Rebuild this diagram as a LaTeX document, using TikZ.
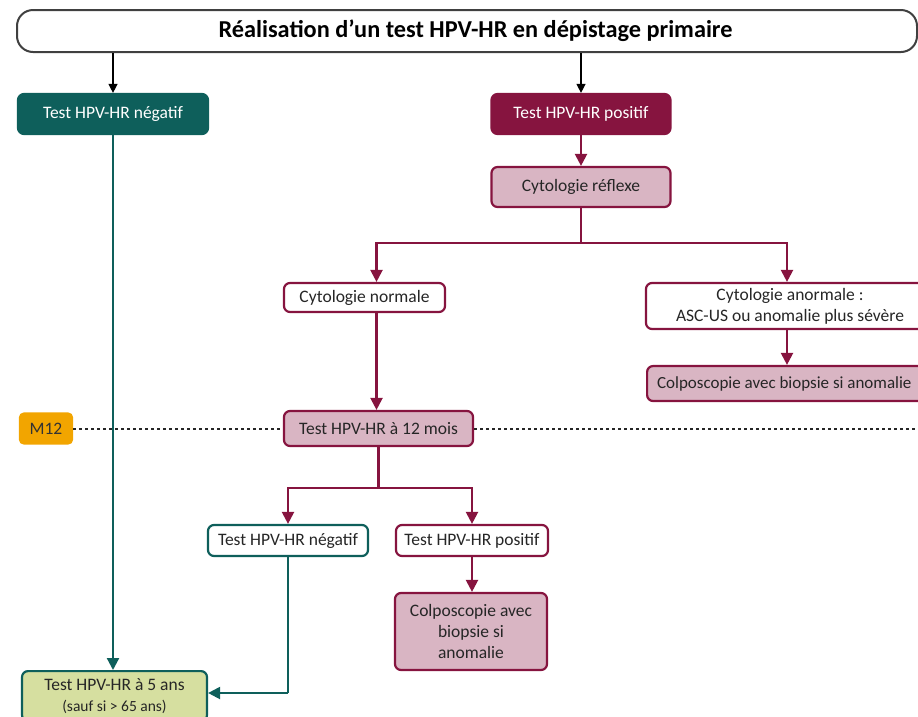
\documentclass[tikz,border=0pt]{standalone}
\usepackage{fontspec}
\setmainfont{Carlito}
\usetikzlibrary{arrows.meta,calc}
\definecolor{teal1}{HTML}{0E5F5B}
\definecolor{crim}{HTML}{86143F}
\definecolor{pinkf}{HTML}{D9B5C3}
\definecolor{olive}{HTML}{D6DFA0}
\definecolor{orangeM}{HTML}{F2A500}
\tikzset{
  base/.style={rounded corners=6pt, line width=2.2pt, align=center, inner sep=2pt, font=\fontsize{17.5}{21}\selectfont},
  darkneg/.style={base, fill=teal1, draw=teal1, text=white},
  darkpos/.style={base, fill=crim, draw=crim, text=white},
  pinkbox/.style={base, fill=pinkf, draw=crim, text=black!85},
  whitecrim/.style={base, fill=white, draw=crim, text=black!85},
  whiteteal/.style={base, fill=white, draw=teal1, text=black!85},
  greenbox/.style={base, fill=olive, draw=teal1, text=black!85},
  mbox/.style={base, fill=orangeM, draw=orangeM, text=black!80, rounded corners=4pt},
  blk/.style={-{Triangle[width=9pt,length=9pt]}, line width=1.3pt, black},
  crimarr/.style={-{Triangle[width=12pt,length=12pt]}, line width=2.2pt, crim},
  crimline/.style={line width=2.2pt, crim},
  tealarr/.style={-{Triangle[width=12pt,length=12pt]}, line width=2.2pt, teal1},
  tealline/.style={line width=2.2pt, teal1},
  dotline/.style={line width=2pt, black!85, dash pattern=on 3pt off 3pt}
}
\begin{document}
\begin{tikzpicture}[x=1pt,y=-1pt]
\useasboundingbox (0,0) rectangle (918,716);
% title
\node[draw=black!75, line width=2pt, rounded corners=16pt, fill=white, minimum width=900pt, minimum height=42pt, font=\fontsize{24.3}{28}\selectfont\bfseries] (title) at (467,31) {\hspace*{17pt}Réalisation d’un test HPV-HR en dépistage primaire};
% first level
\node[darkneg, minimum width=190pt, minimum height=40pt] (neg1) at (113,114) {Test HPV-HR négatif};
\node[darkpos, minimum width=179pt, minimum height=40pt] (pos1) at (581,114) {Test HPV-HR positif};
\node[pinkbox, minimum width=179pt, minimum height=40pt] (cyto) at (581,187) {Cytologie réflexe};
\node[whitecrim, minimum width=161pt, minimum height=29pt] (cnorm) at (364.5,297.5) {Cytologie normale};
\node[whitecrim, minimum width=288pt, minimum height=46pt] (canorm) at (790,306) {Cytologie anormale :\\ASC-US ou anomalie plus sévère};
\node[pinkbox, minimum width=300pt, minimum height=35pt, anchor=west, align=flush left, text width=280pt, inner xsep=9pt, font=\fontsize{17}{20}\selectfont] (colpo1) at (646,383.5) {Colposcopie avec biopsie si anomalie};
\node[pinkbox, minimum width=189pt, minimum height=35pt] (t12) at (378.5,428.5) {Test HPV-HR à 12 mois};
\node[mbox, minimum width=52pt, minimum height=30pt] (m12) at (46,428.5) {M12};
\node[whiteteal, minimum width=160pt, minimum height=31pt] (neg2) at (288,540.5) {Test HPV-HR négatif};
\node[whitecrim, minimum width=152pt, minimum height=31pt] (pos2) at (472,540.5) {Test HPV-HR positif};
\node[pinkbox, minimum width=152pt, minimum height=77pt] (colpo2) at (471,631.5) {Colposcopie avec\\biopsie si\\anomalie};
\node[greenbox, minimum width=185pt, minimum height=50pt, anchor=north, inner sep=3pt] (five) at (114.5,670) {Test HPV-HR à 5 ans\\{\fontsize{15.5}{18}\selectfont (sauf si > 65 ans)}};
% coordinates
\coordinate (end) at (930,428.5);
% dotted timeline
\draw[dotline] (m12.east) -- (t12.west);
\draw[dotline] (t12.east) -- (end);
% arrows from title
\draw[blk] (title.south -| neg1.north) -- (neg1.north);
\draw[blk] (title.south -| pos1.north) -- (pos1.north);
% teal main line
\draw[tealarr] (neg1.south) -- (neg1.south |- five.north);
% positive branch
\draw[crimarr] (pos1.south) -- (cyto.north);
\coordinate (j1) at ($(cyto.south)+(0,35)$);
\draw[crimline] (cyto.south) -- (j1);
\draw[crimarr] (j1) -| ([xshift=12pt]cnorm.north);
\draw[crimarr] (j1) -| ([xshift=-3pt]canorm.north);
\draw[crimarr] ([xshift=-3pt]canorm.south) -- ([xshift=-3pt]canorm.south |- colpo1.north);
\draw[crimarr] ([xshift=12pt]cnorm.south) -- ([xshift=12pt]cnorm.south |- t12.north);
\coordinate (j2) at ($(t12.south)+(0,41)$);
\draw[crimline] (t12.south) -- (j2);
\draw[crimarr] (j2) -| (neg2.north);
\draw[crimarr] (j2) -| (pos2.north);
\draw[crimarr] (pos2.south) -- (pos2.south |- colpo2.north);
% teal return
\coordinate (j3) at (288,693);
\draw[tealline] (neg2.south) -- (j3);
\draw[tealarr] (j3) -- (j3 -| five.east);
\end{tikzpicture}
\end{document}
